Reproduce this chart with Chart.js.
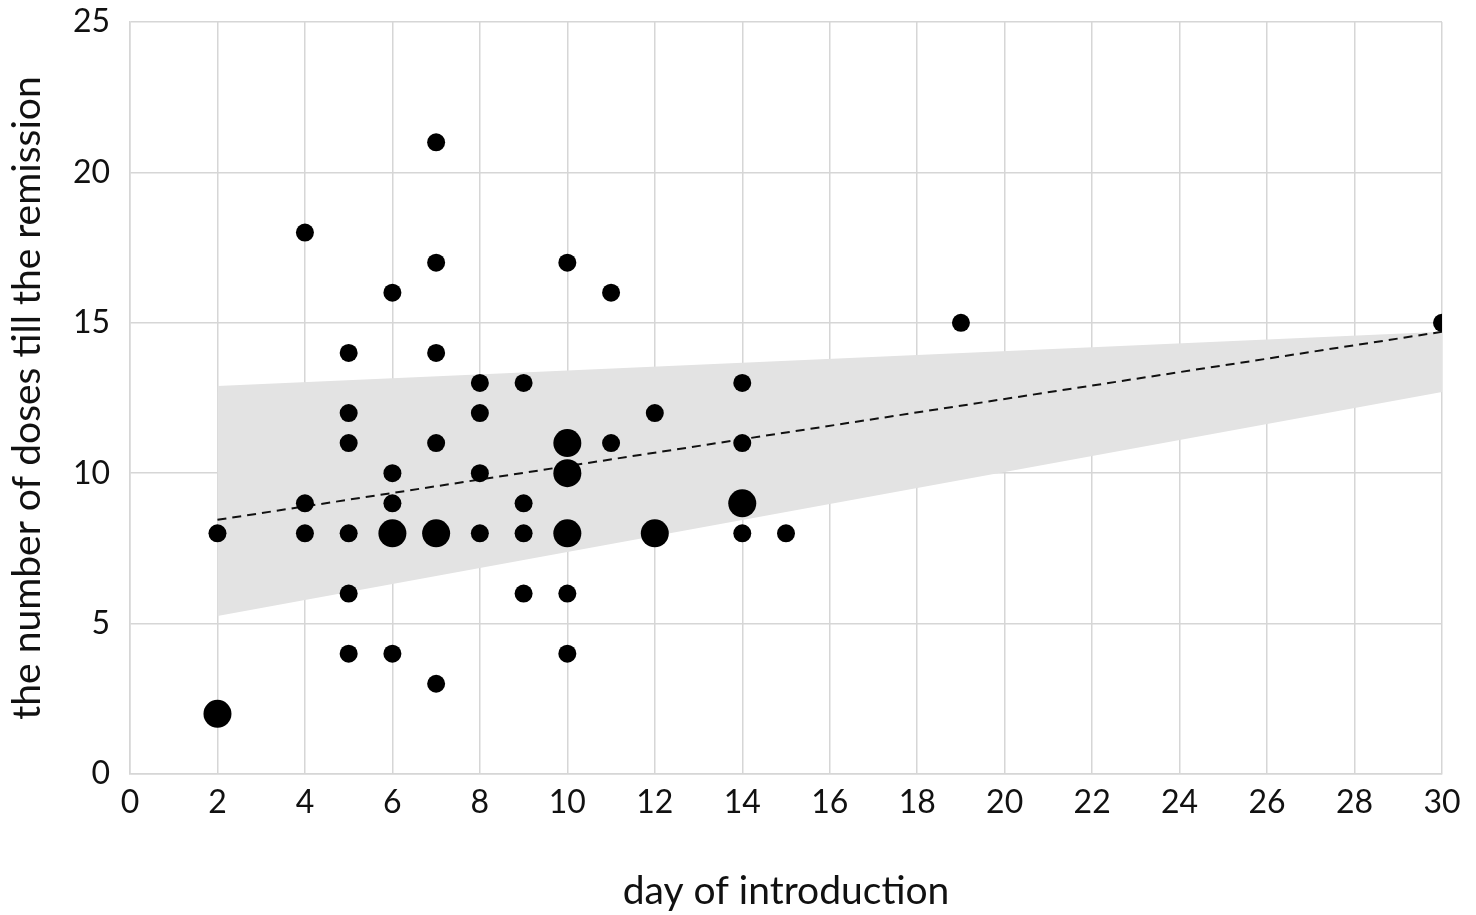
<!DOCTYPE html>
<html>
<head>
<meta charset="utf-8">
<script src="https://cdn.jsdelivr.net/npm/chart.js@4"></script>
<style>
  html, body { margin: 0; padding: 0; background: #fff; }
  #wrap { width: 1476px; height: 915px; }
</style>
</head>
<body>
<div id="wrap"><canvas id="chart"></canvas></div>
<script>
// day of introduction / number of doses / patients at that point
const days   = [2, 2, 4, 4, 4, 5, 5, 5, 5, 5, 5, 6, 6, 6, 6, 6, 7, 7, 7, 7, 7, 7, 8, 8, 8, 8, 9, 9, 9, 9, 10, 10, 10, 10, 10, 10, 11, 11, 12, 12, 14, 14, 14, 14, 15, 19, 30];
const doses  = [8, 2, 18, 9, 8, 14, 12, 11, 8, 6, 4, 16, 10, 9, 8, 4, 21, 17, 14, 11, 8, 3, 13, 12, 10, 8, 13, 9, 8, 6, 17, 11, 10, 8, 6, 4, 16, 11, 12, 8, 13, 11, 9, 8, 8, 15, 15];
const counts = [1, 2, 1, 1, 1, 1, 1, 1, 1, 1, 1, 1, 1, 1, 2, 1, 1, 1, 1, 1, 2, 1, 1, 1, 1, 1, 1, 1, 1, 1, 1, 2, 2, 2, 1, 1, 1, 1, 1, 2, 1, 1, 2, 1, 1, 1, 1];

// regression line and confidence band
const fitX     = [2, 30];
const fitY     = [8.45, 14.7];
const bandUp   = [12.9, 14.7];
const bandLow  = [5.25, 12.7];

const xTicks = [0, 2, 4, 6, 8, 10, 12, 14, 16, 18, 20, 22, 24, 26, 28, 30];
const yTicks = [0, 5, 10, 15, 20, 25];

const FONT = 'Lato, "Open Sans", sans-serif';
const gridColor = '#d6d6d6';

const points = days.map((d, i) => ({ x: d, y: doses[i] }));
const toXY = ys => fitX.map((x, i) => ({ x: x, y: ys[i] }));

new Chart(document.getElementById('chart'), {
    type: 'scatter',
    data: {
        datasets: [
            {
                label: 'patients',
                data: points,
                backgroundColor: '#000',
                borderWidth: 0,
                pointRadius: counts.map(c => c > 1 ? 14 : 9),
                order: 0
            },
            {
                type: 'line',
                label: 'fit',
                data: toXY(fitY),
                borderColor: '#111',
                borderWidth: 2,
                borderDash: [9, 6],
                pointRadius: 0,
                fill: false,
                order: 1
            },
            {
                type: 'line',
                label: 'upper',
                data: toXY(bandUp),
                borderWidth: 0,
                pointRadius: 0,
                backgroundColor: '#e3e3e3',
                fill: '+1',
                order: 2
            },
            {
                type: 'line',
                label: 'lower',
                data: toXY(bandLow),
                borderWidth: 0,
                pointRadius: 0,
                fill: false,
                order: 3
            }
        ]
    },
    options: {
        responsive: true,
        maintainAspectRatio: false,
        animation: false,
        layout: { padding: { left: 0, right: 34, top: 22, bottom: 0 } },
        plugins: {
            legend: { display: false },
            tooltip: { enabled: false }
        },
        scales: {
            x: {
                type: 'linear',
                min: 0,
                max: 30,
                afterBuildTicks: axis => { axis.ticks = xTicks.map(v => ({ value: v })); },
                afterFit: axis => { axis.height = 141; },
                grid: { color: gridColor, lineWidth: 1.5, drawTicks: false },
                border: { color: gridColor, width: 1.5 },
                ticks: { color: '#111', font: { family: FONT, size: 32 }, padding: 9 },
                title: {
                    display: true,
                    text: 'day of introduction',
                    color: '#111',
                    font: { family: FONT, size: 39 },
                    padding: { top: 0, bottom: 0 }
                }
            },
            y: {
                min: 0,
                max: 25,
                afterBuildTicks: axis => { axis.ticks = yTicks.map(v => ({ value: v })); },
                afterFit: axis => {
                    axis.width = 130;
                    axis.paddingTop = 0;
                    axis.paddingBottom = 0;
                },
                grid: { color: gridColor, lineWidth: 1.5, drawTicks: false },
                border: { color: gridColor, width: 1.5 },
                ticks: { color: '#111', font: { family: FONT, size: 32 }, padding: 20 },
                title: {
                    display: true,
                    text: 'the number of doses till the remission',
                    color: '#111',
                    font: { family: FONT, size: 39 },
                    padding: { top: 4, bottom: 0 }
                }
            }
        }
    }
});
</script>
</body>
</html>
